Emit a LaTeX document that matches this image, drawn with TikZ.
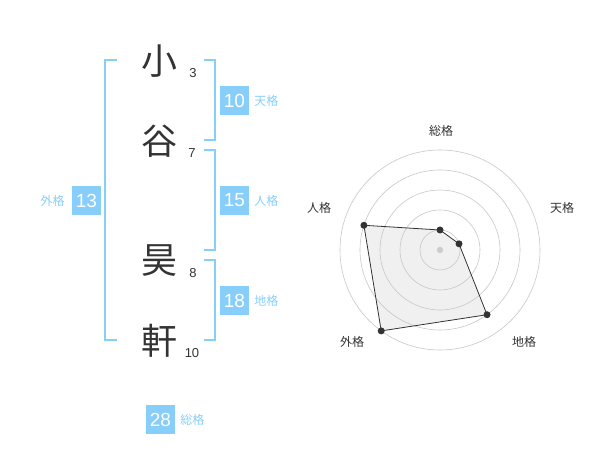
\documentclass[tikz,border=0pt]{standalone}
\usepackage{fontspec}
\usetikzlibrary{positioning}
\setmainfont{Liberation Sans}
\newfontfamily\jpfont{Noto Sans CJK JP}
\definecolor{skyb}{RGB}{135,206,250}
\definecolor{ink}{RGB}{51,51,51}
\tikzset{
	kanji/.style={font=\jpfont\fontsize{36}{36}\selectfont, text=ink, inner sep=0pt},
	strokes/.style={font=\fontsize{13}{13}\selectfont, text=ink, inner sep=0pt},
	score/.style={fill=skyb, text=white, minimum size=29pt, inner sep=0pt, font=\fontsize{19}{19}\selectfont},
	kaku/.style={text=skyb, font=\jpfont\fontsize{12}{12}\selectfont, inner sep=0pt},
	bracket/.style={draw=skyb, line width=1.5pt},
	axislbl/.style={text=ink, font=\jpfont\fontsize{12}{12}\selectfont, inner sep=0pt},
	ring/.style={draw=black!22, line width=0.6pt},
	dot/.style={circle, fill=ink, inner sep=0pt, minimum size=7pt}
}
\begin{document}
\begin{tikzpicture}[x=1pt, y=-1pt]
		\useasboundingbox (0,0) rectangle (600,470);
		\node[kanji] (sho) at (159,61) {小};
		\node[kanji] (tani) at (159,141) {谷};
		\node[kanji] (kou) at (159,261) {昊};
		\node[kanji] (ken) at (159,341) {軒};
		\node[strokes] (n3) at (193,73) {3};
		\node[strokes] (n7) at (192,153) {7};
		\node[strokes] (n8) at (193,273) {8};
		\node[strokes] (n10) at (192,353) {10};
		\coordinate (gaiA) at (117,60);
		\coordinate (gaiB) at (105,60);
		\coordinate (gaiC) at (105,340);
		\coordinate (gaiD) at (117,340);
		\coordinate (tenA) at (204,60);
		\coordinate (tenB) at (215,60);
		\coordinate (tenC) at (215,140);
		\coordinate (tenD) at (204,140);
		\coordinate (jinA) at (204,150);
		\coordinate (jinB) at (215,150);
		\coordinate (jinC) at (215,250);
		\coordinate (jinD) at (204,250);
		\coordinate (chiA) at (204,260);
		\coordinate (chiB) at (215,260);
		\coordinate (chiC) at (215,340);
		\coordinate (chiD) at (204,340);
		\draw[bracket] (gaiA) -- (gaiB) -- (gaiC) -- (gaiD);
		\draw[bracket] (tenA) -- (tenB) -- (tenC) -- (tenD);
		\draw[bracket] (jinA) -- (jinB) -- (jinC) -- (jinD);
		\draw[bracket] (chiA) -- (chiB) -- (chiC) -- (chiD);
		\node[score] (tenkaku) at (234.5,100.5) {10};
		\node[kaku, right=5pt of tenkaku] (tenlbl) {天格};
		\node[score] (jinkaku) at (234.5,200.5) {15};
		\node[kaku, right=5pt of jinkaku] (jinlbl) {人格};
		\node[score] (chikaku) at (234.5,300.5) {18};
		\node[kaku, right=5pt of chikaku] (chilbl) {地格};
		\node[score] (gaikaku) at (86.5,200.5) {13};
		\node[kaku, left=7pt of gaikaku] (gailbl) {外格};
		\node[score] (soukaku) at (160.5,419.5) {28};
		\node[kaku, right=5pt of soukaku] (soulbl) {総格};
		\begin{scope}[shift={(440,250)}]
		\coordinate (pSou) at (-90:20);
		\coordinate (pTen) at (-18:20);
		\coordinate (pChi) at (54:80);
		\coordinate (pGai) at (126:100);
		\coordinate (pJin) at (-162:80);
		\fill[black!6] (pSou) -- (pTen) -- (pChi) -- (pGai) -- (pJin) -- cycle;
		\foreach \r in {20,40,60,80,100}
			\draw[ring] (0,0) circle (\r);
		\fill[black!20] (0,0) circle (3.2);
		\draw[draw=ink, line width=0.8pt] (pSou) -- (pTen) -- (pChi) -- (pGai) -- (pJin) -- cycle;
		\foreach \p in {pSou,pTen,pChi,pGai,pJin}
			\node[dot] at (\p) {};
		\end{scope}
		\node[axislbl] (aSou) at (441,131) {総格};
		\node[axislbl] (aTen) at (562,208) {天格};
		\node[axislbl] (aChi) at (524,342) {地格};
		\node[axislbl] (aGai) at (352,342) {外格};
		\node[axislbl] (aJin) at (319,208) {人格};
\end{tikzpicture}
\end{document}
